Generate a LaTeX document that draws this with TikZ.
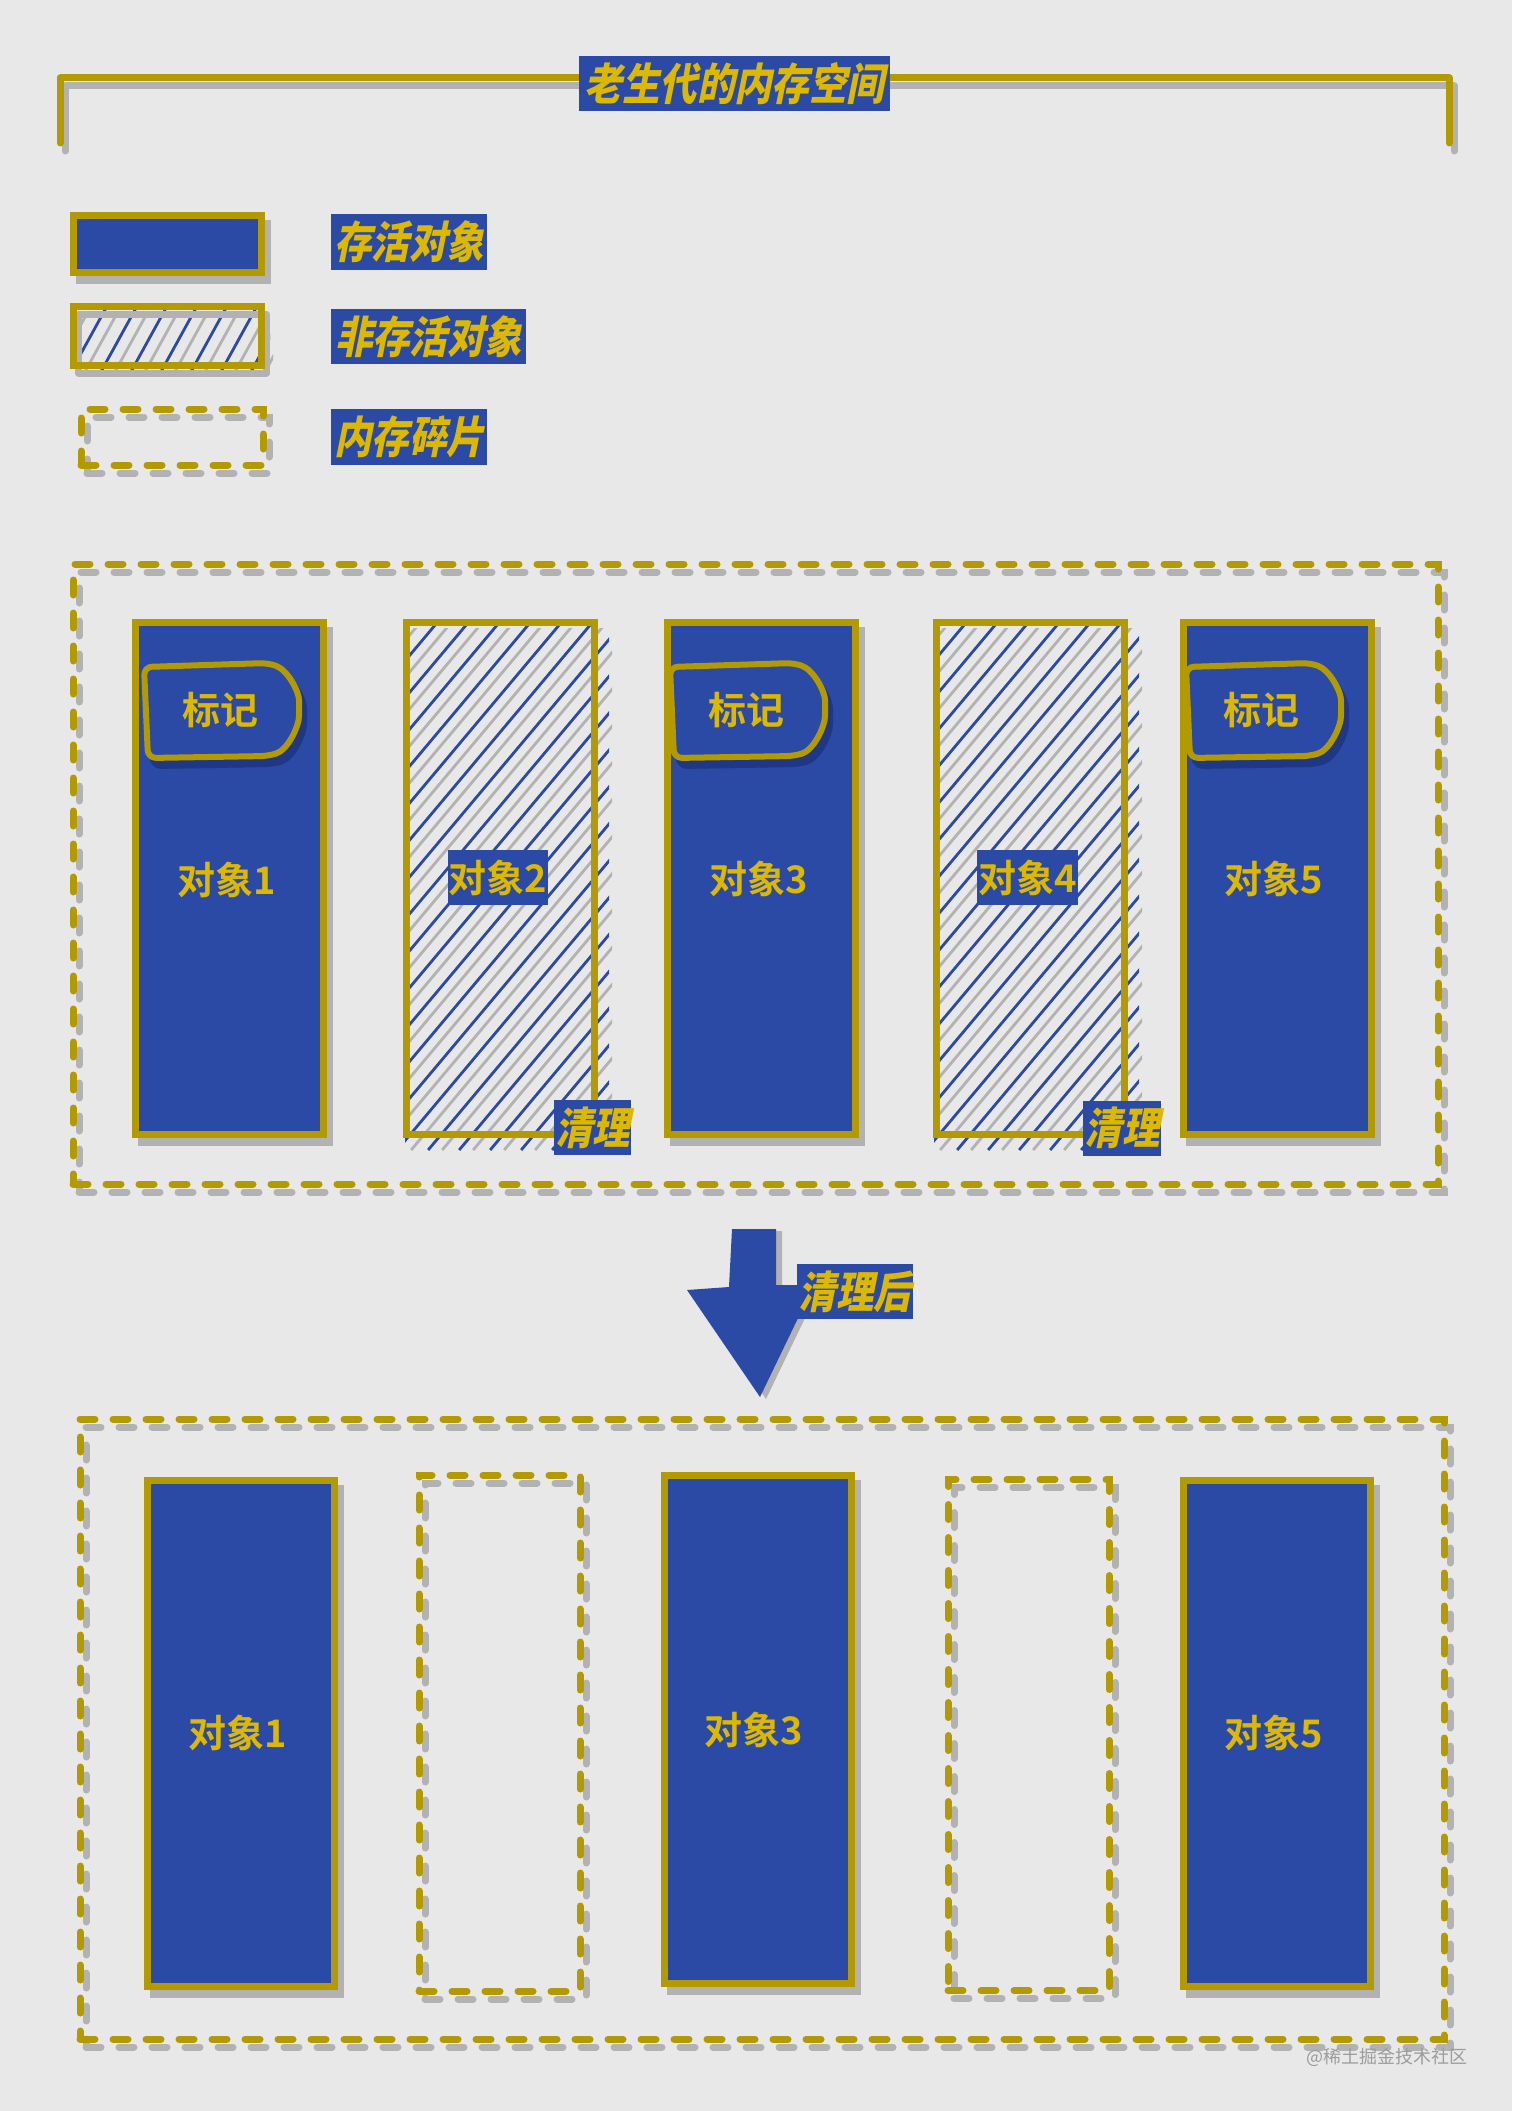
\documentclass[tikz,border=0pt]{standalone}
\usepackage{fontspec}
\newfontfamily\cjkb{Noto Sans CJK SC Bold}
\newfontfamily\cjks{Noto Sans CJK SC Black}[FakeSlant=0.2,FakeStretch=0.85]
\newfontfamily\cjkr{Noto Sans CJK SC}
\definecolor{bgc}{HTML}{E8E8E8}
\definecolor{objblue}{HTML}{2A4AA6}
\definecolor{darkblue}{HTML}{1F3784}
\definecolor{gold}{HTML}{B39A00}
\definecolor{ytext}{HTML}{DDB800}
\definecolor{shgrey}{HTML}{B2B2B2}
\definecolor{wmgrey}{HTML}{9C9C9C}
\tikzset{
  shadowline/.style={preaction={draw=shgrey, line width=7, line cap=round, line join=round, transform canvas={shift={(5,8)}}}},
  bracket/.style={draw=gold, line width=7, line cap=round, line join=round, shadowline},
  objbox/.style={draw=gold, line width=7, fill=objblue, inner sep=0,
    preaction={fill=shgrey, draw=shgrey, line width=7, transform canvas={shift={(6,8)}}}},
  hatchbox/.style={draw=gold, line width=7, inner sep=0},
  dashbox/.style={draw=gold, line width=7, dash pattern=on 15pt off 18pt, line cap=round, inner sep=0,
    preaction={draw=shgrey, line width=7, dash pattern=on 15pt off 18pt, line cap=round, transform canvas={shift={(6,8)}}}},
  tbox/.style={fill=objblue, text=ytext, font=\cjks\fontsize{44}{48}\selectfont, inner sep=0},
  lbl/.style={text=ytext, font=\cjkb\fontsize{38}{42}\selectfont, inner sep=0},
  lblbox/.style={fill=objblue, text=ytext, font=\cjkb\fontsize{38}{42}\selectfont, inner sep=0},
  tagshape/.style={draw=gold, line width=6, fill=objblue, rounded corners=8,
    preaction={fill=darkblue, draw=darkblue, line width=6, transform canvas={shift={(5,8)}}}},
  wm/.style={text=wmgrey, font=\cjkr\fontsize{18}{20}\selectfont, inner sep=0}
}
% hatch: x0 y0 x1 y1 spacing count slope(dx/dy)
\newcommand\hatcharea[7]{%
  \pgfmathsetmacro\hdy{#4-#2}%
  \pgfmathsetmacro\hdx{#7*\hdy}%
  \begin{scope}
    \clip ({#1+3},{#2+4}) rectangle ({#3+3},{#4+3});
    \foreach \i in {0,...,#6}{
      \draw[shgrey, line width=2.8] ({#1-\hdx+\i*#5+14},#4) -- ++(\hdx,-\hdy);
    }
  \end{scope}
  \begin{scope}
    \clip (#1,#2) rectangle (#3,#4);
    \foreach \i in {0,...,#6}{
      \draw[objblue, line width=2.8] ({#1-\hdx+\i*#5},#4) -- ++(\hdx,-\hdy);
    }
  \end{scope}
}
\newcommand\tagpath[1]{%
  \begin{scope}[shift={#1}]
    \draw[tagshape] (2,5) -- (126,1) .. controls (146,8) and (157,30) .. (157,46)
      .. controls (157,64) and (146,88) .. (126,94) -- (6,96) -- cycle;
  \end{scope}
}
\begin{document}
\begin{tikzpicture}[x=1pt,y=-1pt]
\fill[bgc] (0,0) rectangle (1512,2111);
\useasboundingbox (0,0) rectangle (1512,2111);

% ---------- title bracket ----------
\coordinate (brL) at (60,143);
\coordinate (brR) at (1449,143);
\draw[bracket] (brL) -- (60,78) -- (1449,78) -- (brR);
\node[tbox, minimum width=311, minimum height=55] (title) at (734.5,83.5) {老生代的内存空间};

% ---------- legend ----------
\node[objbox, minimum width=188, minimum height=57] (lg1) at (167.5,243.5) {};
\hatcharea{76}{308}{270}{376}{30}{10}{0.55}
\node[hatchbox, shadowline, minimum width=188, minimum height=59] (lg2) at (167.5,335.5) {};
\node[dashbox, minimum width=182, minimum height=56] (lg3) at (172,437) {};
\node[tbox, minimum width=156, minimum height=56] (lt1) at (409,242) {存活对象};
\node[tbox, minimum width=195, minimum height=55] (lt2) at (428.5,336.5) {非存活对象};
\node[tbox, minimum width=156, minimum height=56] (lt3) at (409,437) {内存碎片};

% ---------- before cleanup ----------
\node[dashbox, minimum width=1365, minimum height=620] (sec1) at (755.5,874) {};

\node[objbox, minimum width=188, minimum height=512] (o1) at (229.5,878.5) {};
\hatcharea{405}{624}{609}{1150}{31}{24}{0.84}
\node[hatchbox, minimum width=188, minimum height=512] (o2) at (500,878.5) {};
\node[objbox, minimum width=188, minimum height=512] (o3) at (761,878.5) {};
\hatcharea{934}{624}{1139}{1150}{31}{24}{0.84}
\node[hatchbox, minimum width=188, minimum height=512] (o4) at (1030,878.5) {};
\node[objbox, minimum width=188, minimum height=512] (o5) at (1277,878.5) {};

\tagpath{(142,662)}
\tagpath{(668,662)}
\tagpath{(1184,662)}
\node[lbl] (tg1) at (220.5,710) {标记};
\node[lbl] (tg3) at (746,710) {标记};
\node[lbl] (tg5) at (1261.5,710) {标记};

\node[lbl] (l1) at (227,880) {对象1};
\node[lblbox, minimum width=100, minimum height=55] (l2) at (498,877.5) {对象2};
\node[lbl] (l3) at (759,879) {对象3};
\node[lblbox, minimum width=101, minimum height=55] (l4) at (1027.5,877.5) {对象4};
\node[lbl] (l5) at (1274,879) {对象5};

\node[tbox, minimum width=77, minimum height=55] (c2) at (592.5,1127.5) {清理};
\node[tbox, minimum width=78, minimum height=55] (c4) at (1122,1128) {清理};

% ---------- arrow ----------
\fill[shgrey] (738,1231) -- (782,1231) -- (782,1287) -- (820,1287) -- (766,1399) -- (693,1292) -- (736,1289) -- cycle;
\fill[objblue] (732,1229) -- (776,1229) -- (776,1285) -- (814,1285) -- (760,1397) -- (687,1290) -- (729,1287) -- cycle;
\node[tbox, minimum width=116, minimum height=55] (after) at (855,1291.5) {清理后};

% ---------- after cleanup ----------
\node[dashbox, minimum width=1364, minimum height=620] (sec2) at (762,1729) {};
\node[objbox, minimum width=187, minimum height=506] (b1) at (241,1733) {};
\node[dashbox, minimum width=161, minimum height=516] (d1) at (499.5,1733) {};
\node[objbox, minimum width=187, minimum height=508] (b3) at (758,1729) {};
\node[dashbox, minimum width=161, minimum height=511] (d2) at (1028.5,1735) {};
\node[objbox, minimum width=187, minimum height=506] (b5) at (1277,1733) {};
\node[lbl] (m1) at (238,1733) {对象1};
\node[lbl] (m3) at (754,1730) {对象3};
\node[lbl] (m5) at (1274,1733) {对象5};

\node[wm] (wmark) at (1387,2057) {@稀土掘金技术社区};
\end{tikzpicture}
\end{document}
